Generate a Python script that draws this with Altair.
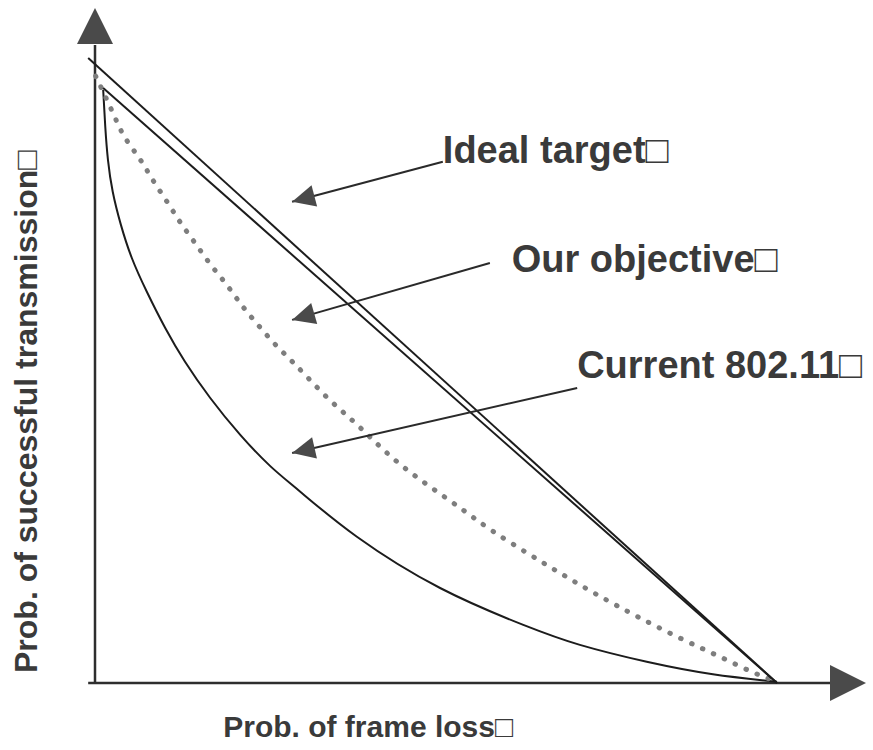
import math

import altair as alt
import pandas as pd

# ---------------------------------------------------------------------------
# Curves (x: probability of frame loss, y: probability of successful
# transmission, both on a 0..1 schematic scale)
# ---------------------------------------------------------------------------
ideal_outer_x = [-0.010, 1.000]
ideal_outer_y = [1.000, 0.000]
ideal_inner_x = [0.012, 1.000]
ideal_inner_y = [0.952, 0.000]

objective_x = [0.001, 0.026, 0.041, 0.066, 0.084, 0.106, 0.125, 0.147, 0.169,
               0.194, 0.216, 0.239, 0.264, 0.290, 0.315, 0.345, 0.374, 0.403,
               0.443, 0.491, 0.540, 0.579, 0.638, 0.686, 0.736, 0.795, 0.862,
               0.927, 0.965, 1.000]
objective_y = [0.971, 0.914, 0.874, 0.840, 0.805, 0.770, 0.736, 0.704, 0.669,
               0.637, 0.602, 0.573, 0.541, 0.514, 0.485, 0.451, 0.424, 0.394,
               0.352, 0.314, 0.277, 0.245, 0.205, 0.173, 0.141, 0.106, 0.069,
               0.037, 0.016, 0.002]

current_x = [0.012, 0.015, 0.019, 0.026, 0.038, 0.054, 0.076, 0.103, 0.132,
             0.169, 0.213, 0.257, 0.301, 0.384, 0.506, 0.628, 0.711, 0.809,
             0.906, 1.000]
current_y = [0.949, 0.891, 0.837, 0.786, 0.733, 0.680, 0.626, 0.568, 0.514,
             0.456, 0.397, 0.347, 0.306, 0.234, 0.152, 0.093, 0.061, 0.034,
             0.014, 0.002]

# Annotation texts (each ends with the placeholder box glyph)
labels = ["Ideal target\u25a1", "Our objective\u25a1", "Current 802.11\u25a1"]
x_title = "Prob. of frame loss\u25a1"
y_title = "Prob. of successful transmission\u25a1"

# ---------------------------------------------------------------------------
# Layout
# ---------------------------------------------------------------------------
W, H = 873, 750
ORIGIN_PX = (95, 683)          # where (0, 0) sits on the canvas
PX_X, PX_Y = 682.0, 625.0      # pixels per unit along x and y

X_DOM = [-ORIGIN_PX[0] / PX_X, (W - ORIGIN_PX[0]) / PX_X]
Y_DOM = [-(H - ORIGIN_PX[1]) / PX_Y, ORIGIN_PX[1] / PX_Y]

xs = alt.Scale(domain=X_DOM, nice=False, zero=False)
ys = alt.Scale(domain=Y_DOM, nice=False, zero=False)

INK = "#1c1c1c"
TEXT = "#3a3a3a"
HEAD = "#4a4a4a"
FONT = "Liberation Sans"

# annotation anchors: label start, arrow tail, arrow tip
ann = pd.DataFrame({
    "label": labels,
    "lx": [0.510, 0.611, 0.707],
    "ly": [0.832, 0.658, 0.488],
    "tx": [0.510, 0.579, 0.707],
    "ty": [0.834, 0.672, 0.472],
    "hx": [0.289, 0.289, 0.289],
    "hy": [0.770, 0.581, 0.368],
})
ann["angle"] = [
    math.degrees(math.atan2(-(hy - ty) * PX_Y, (hx - tx) * PX_X)) % 360
    for hx, hy, tx, ty in zip(ann.hx, ann.hy, ann.tx, ann.ty)
]


def series(name, xv, yv):
    return pd.DataFrame({"series": name, "x": xv, "y": yv, "i": range(len(xv))})


def line(df, **kw):
    return alt.Chart(df).mark_line(**kw).encode(
        x=alt.X("x:Q", scale=xs, axis=None),
        y=alt.Y("y:Q", scale=ys, axis=None),
        order="i:Q",
    )


ideal_outer = line(series("ideal_outer", ideal_outer_x, ideal_outer_y),
                   color=INK, strokeWidth=2)
ideal_inner = line(series("ideal_inner", ideal_inner_x, ideal_inner_y),
                   color=INK, strokeWidth=2)
objective = line(series("objective", objective_x, objective_y),
                 color="#7e7e7e", strokeWidth=5, strokeDash=[0.5, 11.5],
                 strokeCap="round", interpolate="basis")
current = line(series("current", current_x, current_y),
               color=INK, strokeWidth=2, interpolate="natural")

# Axes drawn as arrows
axes_df = pd.DataFrame({
    "x": [0.0, -0.010],
    "y": [0.0, 0.0],
    "x2": [0.0, 1.078],
    "y2": [1.021, 0.0],
})
axes = alt.Chart(axes_df).mark_rule(color="#2e2e2e", strokeWidth=2.5).encode(
    x=alt.X("x:Q", scale=xs, axis=None),
    y=alt.Y("y:Q", scale=ys, axis=None),
    x2="x2:Q",
    y2="y2:Q",
)

HEAD_PATH = "M0,0L-2,-1L-2,1Z"
axis_heads_df = pd.DataFrame({"x": [0.0, 1.1305], "y": [1.080, 0.0],
                              "angle": [270.0, 0.0]})
axis_heads = alt.Chart(axis_heads_df).mark_point(
    shape=HEAD_PATH, filled=True, opacity=1, color=HEAD, size=1296,
).encode(
    x=alt.X("x:Q", scale=xs, axis=None),
    y=alt.Y("y:Q", scale=ys, axis=None),
    angle=alt.Angle("angle:Q", scale=None),
)

shafts = alt.Chart(ann).mark_rule(color="#2a2a2a", strokeWidth=2).encode(
    x=alt.X("tx:Q", scale=xs, axis=None),
    y=alt.Y("ty:Q", scale=ys, axis=None),
    x2="hx:Q",
    y2="hy:Q",
)
ann_heads = alt.Chart(ann).mark_point(
    shape="M0,0L-2,-0.95L-2,0.95Z", filled=True, opacity=1, color=HEAD,
    size=529,
).encode(
    x=alt.X("hx:Q", scale=xs, axis=None),
    y=alt.Y("hy:Q", scale=ys, axis=None),
    angle=alt.Angle("angle:Q", scale=None),
)

text_style = dict(align="left", baseline="alphabetic", font=FONT,
                  fontWeight="bold", color=TEXT)

ann_text = alt.Chart(ann).mark_text(fontSize=38, **text_style).encode(
    x=alt.X("lx:Q", scale=xs, axis=None),
    y=alt.Y("ly:Q", scale=ys, axis=None),
    text="label:N",
)

xt_df = pd.DataFrame({"t": [x_title], "x": [0.188], "y": [-0.0864]})
x_title_mark = alt.Chart(xt_df).mark_text(fontSize=30, **text_style).encode(
    x=alt.X("x:Q", scale=xs, axis=None),
    y=alt.Y("y:Q", scale=ys, axis=None),
    text="t:N",
)

yt_df = pd.DataFrame({"t": [y_title], "x": [-0.085], "y": [0.016]})
y_title_mark = alt.Chart(yt_df).mark_text(
    fontSize=32, angle=270, **text_style
).encode(
    x=alt.X("x:Q", scale=xs, axis=None),
    y=alt.Y("y:Q", scale=ys, axis=None),
    text="t:N",
)

chart = alt.layer(
    axes, axis_heads, current, objective, ideal_outer, ideal_inner,
    shafts, ann_heads, ann_text, x_title_mark, y_title_mark,
).properties(
    width=W, height=H, autosize="none", padding=0, background="white",
).configure_view(stroke=None)

chart.save("out.html", embed_options={"renderer": "svg", "actions": False})
